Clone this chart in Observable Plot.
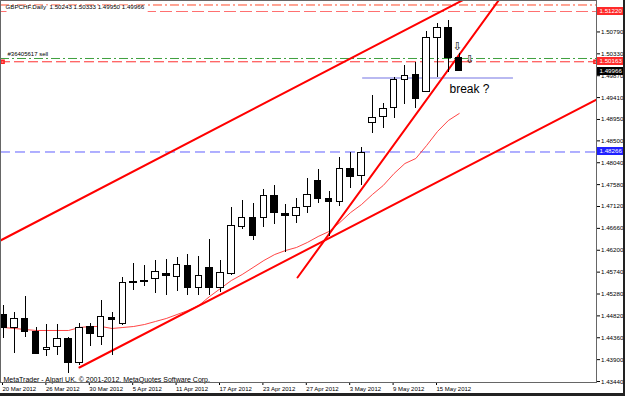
<!DOCTYPE html>
<html><head><meta charset="utf-8">
<script src="https://cdn.jsdelivr.net/npm/d3@7"></script>
<script src="https://cdn.jsdelivr.net/npm/@observablehq/plot@0.6"></script>
<style>
html,body{margin:0;padding:0;background:#fff;}
svg{display:block;}
.crisp{shape-rendering:crispEdges;}
</style>
</head><body><div id="chart"></div>
<script>
// ---- data ----
const dates = ["20 Mar","21 Mar","22 Mar","23 Mar","26 Mar","27 Mar","28 Mar","29 Mar","30 Mar",
  "2 Apr","3 Apr","4 Apr","5 Apr","6 Apr","9 Apr","10 Apr","11 Apr","12 Apr","13 Apr","16 Apr","17 Apr",
  "18 Apr","19 Apr","20 Apr","23 Apr","24 Apr","25 Apr","26 Apr","27 Apr","30 Apr",
  "1 May","2 May","3 May","4 May","7 May","8 May","9 May","10 May","11 May","14 May","15 May","16 May","17 May"];
const opens  = [1.44849,1.44555,1.44765,1.44471,1.44113,1.44176,1.44324,1.43819,1.44576,1.44366,1.44786,1.44639,1.45501,1.45564,1.45606,1.45711,1.45648,1.45879,1.45396,1.45837,1.45396,1.45711,1.46699,1.46868,1.46868,1.47351,1.46952,1.46910,1.47099,1.47646,1.47288,1.47225,1.47898,1.47751,1.48886,1.49012,1.49201,1.49790,1.49895,1.49517,1.50673,1.50863,1.50243];
const highs  = [1.45038,1.44891,1.45228,1.44576,1.44639,1.44639,1.44366,1.44660,1.44660,1.45144,1.44891,1.45627,1.45921,1.45879,1.45985,1.46006,1.46048,1.46111,1.46069,1.46426,1.45985,1.47099,1.47246,1.47183,1.47477,1.47562,1.47162,1.47288,1.47709,1.47898,1.47435,1.48150,1.48255,1.48360,1.49454,1.49286,1.49832,1.50085,1.50148,1.50800,1.50968,1.51031,1.50333];
const lows   = [1.44345,1.44029,1.44366,1.44010,1.43966,1.43987,1.43609,1.43780,1.44176,1.44197,1.43987,1.44620,1.45354,1.45438,1.45291,1.45249,1.45333,1.45249,1.45249,1.45249,1.45312,1.45669,1.46636,1.46405,1.46678,1.46742,1.46153,1.46763,1.46973,1.47183,1.46489,1.47120,1.47498,1.47562,1.48655,1.48760,1.48970,1.49265,1.49180,1.49517,1.49832,1.49937,1.49950];
const closes = [1.44555,1.44765,1.44471,1.44029,1.44155,1.44324,1.43819,1.44555,1.44429,1.44807,1.44744,1.45501,1.45543,1.45543,1.45753,1.45669,1.45900,1.45396,1.45669,1.45396,1.45732,1.46720,1.46868,1.46510,1.47351,1.46973,1.46910,1.47078,1.47372,1.47288,1.47225,1.47898,1.47730,1.48255,1.48991,1.49180,1.49790,1.49874,1.49370,1.50673,1.50863,1.50232,1.49966];
const maValues = [1.44576,1.44555,1.44534,1.44513,1.44513,1.44513,1.44513,1.44576,1.44597,1.44597,1.44555,1.44576,1.44597,1.44639,1.44702,1.44765,1.44849,1.44933,1.45038,1.45228,1.45396,1.45564,1.45690,1.45837,1.45985,1.46111,1.46195,1.46258,1.46363,1.46489,1.46594,1.46784,1.46994,1.47162,1.47372,1.47562,1.47814,1.48024,1.48129,1.48403,1.48697,1.48928,1.49075];

const xTickIdx = [0,4,8,12,16,20,24,28,32,36,40];
const xTickLabels = ["20 Mar 2012","26 Mar 2012","30 Mar 2012","5 Apr 2012","11 Apr 2012","17 Apr 2012","23 Apr 2012","27 Apr 2012","3 May 2012","9 May 2012","15 May 2012"];
const yTickValues = [1.50790,1.50330,1.49870,1.49410,1.48950,1.48500,1.48040,1.47580,1.47120,1.46660,1.46200,1.45740,1.45280,1.44820,1.44360,1.43900,1.43440];

// trend lines (bar index, price)
const channelUpper = [{i:-0.28,p:1.46405},{i:46,p:1.51894}];
const channelLower = [{i:7.0,p:1.43735},{i:54.8,p:1.49384}];
const steepLine    = [{i:27.1,p:1.45627},{i:46.3,p:1.51663}];

// horizontal levels
const levelTopDashDot = 1.51357;
const levelTP = 1.51220;
const levelOpen = 1.50232;
const levelSL = 1.50163;
const levelBlue = 1.48266;
const breakLevel = {i1:33.1, i2:47.0, p:1.49822};
const bidPrice = 1.49966;

const sellArrows = [{i:41.84,p:1.50484},{i:42.95,p:1.50211}];
const breakText = {i:42.95, p:1.49597, text:"break ?"};
const headerText = "GBPCHF.Daily  1.50243 1.50333 1.49950 1.49966";
const orderText = {p:1.50326, text:"#36405617 sell"};
const copyright = "MetaTrader - Alpari UK, \u00A9 2001-2012, MetaQuotes Software Corp.";

const priceLabels = [
  {price:levelTP, bg:"#ff2a2a", fg:"#fff"},
  {price:levelSL, bg:"#ff2a2a", fg:"#fff"},
  {price:bidPrice, bg:"#000", fg:"#fff"},
  {price:levelBlue, bg:"#2020ff", fg:"#fff"}
];

const candles = dates.map((d,k)=>({i:k, date:d, o:opens[k], h:highs[k], l:lows[k], c:closes[k]}));
const ma = maValues.map((v,k)=>({i:k, p:v}));

const W = 625, H = 396;
const chart = Plot.plot({
  width: W, height: H,
  marginLeft: 0, marginRight: 29, marginTop: 0, marginBottom: 14,
  style: {fontFamily: "'Liberation Sans', Arial, sans-serif", fontSize: "6px", background: "#fff", color: "#000", overflow: "visible"},
  x: {type: "linear", domain: [-0.2765, 54.654], axis: null},
  y: {type: "linear", domain: [1.434194, 1.514513], axis: null},
  marks: [
    // horizontal levels
    Plot.ruleY([levelTopDashDot], {stroke: "#ff4a2a", strokeDasharray: "9,3,2,3", strokeWidth: 1}),
    Plot.ruleY([levelTP], {stroke: "#ff7070", strokeDasharray: "12,4", strokeWidth: 1}),
    Plot.ruleY([levelOpen], {stroke: "#3fa03f", strokeDasharray: "9,3,2,3", strokeWidth: 1}),
    Plot.ruleY([levelSL], {stroke: "#ff3030", strokeDasharray: "10,4", strokeWidth: 1}),
    Plot.ruleY([levelBlue], {stroke: "#6060ff", strokeDasharray: "10,5", strokeWidth: 1}),
    Plot.ruleY([breakLevel], {y: "p", x1: "i1", x2: "i2", stroke: "#7474e4", strokeWidth: 1.2}),
    // moving average
    Plot.line(ma, {x: "i", y: "p", stroke: "#ff3030", strokeWidth: 0.9, clip: true}),
    // trend lines
    Plot.line(channelUpper, {x: "i", y: "p", stroke: "#ff0000", strokeWidth: 2, clip: true}),
    Plot.line(channelLower, {x: "i", y: "p", stroke: "#ff0000", strokeWidth: 2, clip: true}),
    Plot.line(steepLine, {x: "i", y: "p", stroke: "#ff0000", strokeWidth: 2, clip: true}),
    // candles
    Plot.ruleX(candles, {x: "i", y1: "l", y2: "h", stroke: "#000", strokeWidth: 1, clip: true, className: "crisp"}),
    Plot.rect(candles, {x1: d => d.i - 0.3, x2: d => d.i + 0.3, y1: "o", y2: "c",
      fill: d => d.c >= d.o ? "#fff" : "#000", stroke: "#000", strokeWidth: 1, clip: true, className: "crisp"}),
    // order markers
    Plot.dot([levelSL], {y: d => d, frameAnchor: "left", dx: 2, symbol: "square", r: 1.8, stroke: "#ff2020", fill: "none"}),
    Plot.dot([levelSL], {y: d => d, frameAnchor: "right", dx: -1, symbol: "square", r: 1.8, stroke: "#ff2020", fill: "none"}),
    // sell arrows
    Plot.text(sellArrows, {x: "i", y: "p", text: () => "\u21E9", fontSize: 11, fontFamily: "DejaVu Sans", fill: "#000"}),
    // annotations
    Plot.text([breakText], {x: "i", y: "p", text: "text", fontSize: 12, fill: "#000", fontFamily: "'Liberation Sans', Arial, sans-serif"}),
    Plot.text([orderText], {y: "p", text: "text", frameAnchor: "left", textAnchor: "start", dx: 7, fontSize: 6, fill: "#000"}),
    Plot.text([copyright], {text: d => d, frameAnchor: "bottom-left", textAnchor: "start", lineAnchor: "bottom", dx: 3, dy: -1, fontSize: 7, fill: "#000"}),
    Plot.text([headerText], {text: d => d, frameAnchor: "top-left", textAnchor: "start", lineAnchor: "top", dx: 5, dy: 4, fontSize: 6.2, fill: "#000", className: "hdr"}),
    // axes
    Plot.axisY({anchor: "right", ticks: yTickValues, tickFormat: d => d.toFixed(5), tickSize: 3, tickPadding: 1.5, fontSize: 6.2, stroke: "#000"}),
    Plot.axisX({anchor: "bottom", ticks: xTickIdx, tickFormat: d => xTickLabels[xTickIdx.indexOf(d)], textAnchor: "start", tickSize: 3, tickPadding: 1, fontSize: 6, dx: -1}),
    Plot.frame({stroke: "#666", className: "crisp"})
  ]
});
document.getElementById("chart").append(chart);

const svg = d3.select(chart);
// white box behind header text
const hdr = svg.select("g.hdr text").node();
if (hdr) {
  const bb = hdr.getBBox();
  d3.select(hdr.parentNode).insert("rect", "text")
    .attr("x", 1).attr("y", 1).attr("width", bb.x + bb.width + 2).attr("height", 8.5).attr("fill", "#fff");
}
// coloured price labels on the right axis
const ys = chart.scale("y");
const g = svg.append("g").attr("text-anchor", "start")
  .attr("font-family", "'Liberation Sans', Arial, sans-serif");
for (const L of priceLabels) {
  const y = ys.apply(L.price);
  g.append("rect").attr("x", 597).attr("y", Math.round(y - 4)).attr("width", 27).attr("height", 8).attr("fill", L.bg).attr("class", "crisp");
  g.append("text").attr("x", 599.5).attr("y", Math.round(y - 4) + 6.3).attr("fill", L.fg)
    .attr("text-anchor", "start").attr("font-size", 6.2).text(L.price.toFixed(5));
}
// window border
svg.append("rect").attr("x", W - 2).attr("y", 0).attr("width", 2).attr("height", H).attr("fill", "#222");
svg.append("rect").attr("x", 0).attr("y", H - 3).attr("width", W).attr("height", 3).attr("fill", "#222");
</script>
</body></html>
